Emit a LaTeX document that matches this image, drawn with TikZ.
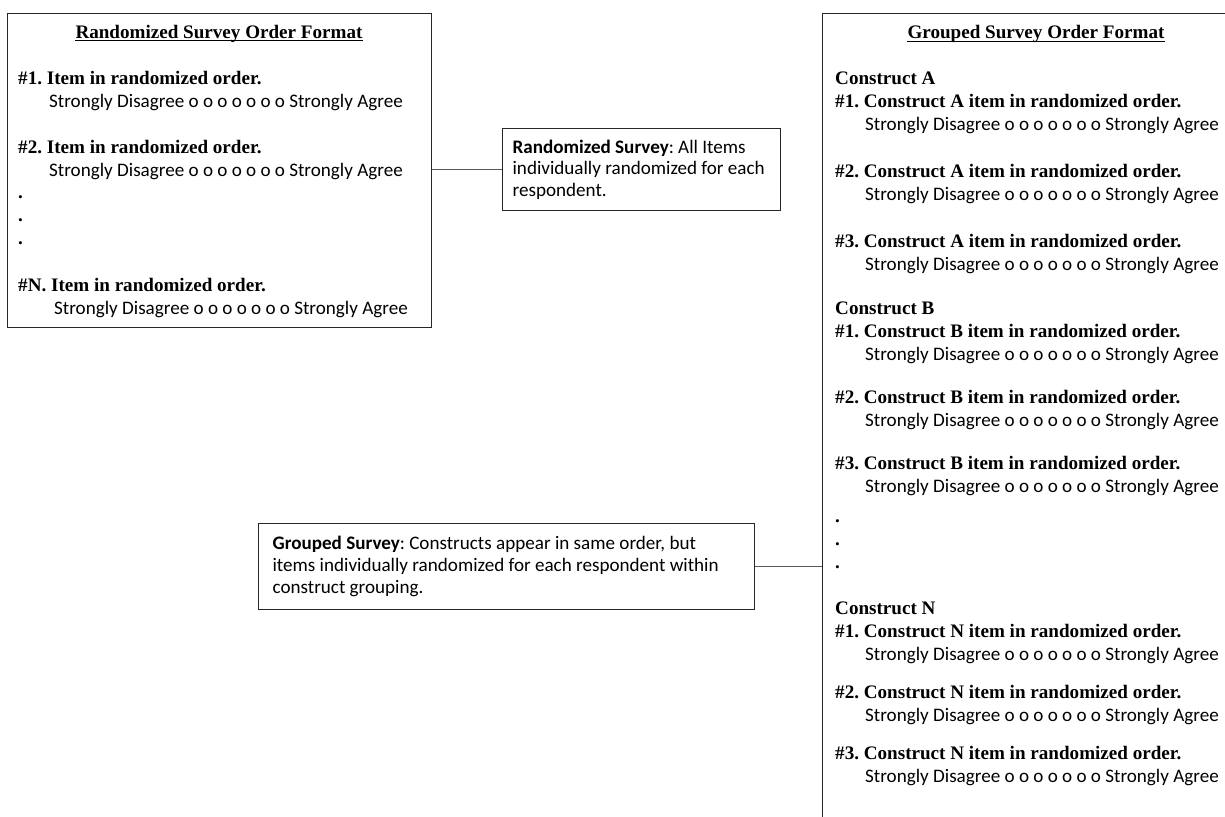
\documentclass[tikz,border=0pt]{standalone}
\usepackage{fontspec}
\setmainfont{Liberation Serif}
\newfontfamily\calibri{Carlito}
\usetikzlibrary{positioning,calc}
\frenchspacing

\newcommand{\likert}{Strongly Disagree o o o o o o o Strongly Agree}

\tikzset{
  framebox/.style={draw=black!85, line width=1.4pt},
  notebox/.style={draw=black!85, line width=1.2pt, align=flush left,
    font=\calibri\fontsize{19.1}{21.7}\selectfont},
  titletext/.style={anchor=base, inner sep=0pt, font=\bfseries\fontsize{19.1}{23}\selectfont},
  itemtext/.style={anchor=base west, inner sep=0pt, font=\bfseries\fontsize{19.1}{23}\selectfont},
  scaletext/.style={anchor=base west, inner sep=0pt, font=\calibri\fontsize{19.1}{23}\selectfont},
  underln/.style={line width=1.1pt},
  link/.style={draw=black!65, line width=1pt}
}

\begin{document}
\begin{tikzpicture}[x=1pt, y=-1pt]
    \useasboundingbox (0,0) rectangle (1225,816);

    % Randomized format
    \node[framebox, anchor=north west, minimum width=424pt, minimum height=314pt] (randbox) at (7,13) {};
    \node[titletext] (randtitle) at (219,38) {Randomized Survey Order Format};
    \draw[underln] ([yshift=-2.5pt]randtitle.base west) -- ([yshift=-2.5pt]randtitle.base east);

    \node[itemtext] (rand1) at (18,84) {\#1. Item in randomized order.};
    \node[scaletext] (rscale1) at (49,107) {\likert};
    \node[itemtext] (rand2) at (18,153) {\#2. Item in randomized order.};
    \node[scaletext] (rscale2) at (49,176) {\likert};
    \foreach \dy [count=\i] in {198,221,244}
        \node[itemtext] (rdot\i) at (18,\dy) {.};
    \node[itemtext] (randN) at (18,291) {\#N. Item in randomized order.};
    \node[scaletext] (rscaleN) at (54,314) {\likert};

    % Grouped format
    \node[framebox, anchor=north west, minimum width=430pt, minimum height=840pt] (groupbox) at (822,13) {};
    \node[titletext] (grouptitle) at (1036,39) {Grouped Survey Order Format};
    \draw[underln] ([yshift=-2.5pt]grouptitle.base west) -- ([yshift=-2.5pt]grouptitle.base east);

    \foreach \grp/\top/\gap in {A/78/70, B/308/66, N/608/61} {
        \node[itemtext] (head\grp) at (835,\top+6) {Construct \grp};
        \foreach \k in {1,2,3} {
            \node[itemtext] (item\grp\k) at (835,\top+29+\k*\gap-\gap) {\#\k. Construct \grp\ item in randomized order.};
            \node[scaletext] (scale\grp\k) at (865,\top+52+\k*\gap-\gap) {\likert};
        }
    }
    \foreach \dy [count=\i] in {522,545,568}
        \node[itemtext] (gdot\i) at (835,\dy) {.};

    % Notes
    \node[notebox, anchor=north west, text width=258pt, inner xsep=10pt, minimum height=82pt] (randnote) at (502,128)
        {\textbf{Randomized Survey}: All Items\\individually randomized for each\\respondent.};
    \node[notebox, anchor=north west, text width=468pt, inner xsep=14pt, minimum height=86pt] (groupnote) at (258,523)
        {\textbf{Grouped Survey}: Constructs appear in same order, but\\items individually randomized for each respondent within\\construct grouping.};

    \draw[link] (randnote.west) -- (randnote.west -| randbox.east);
    \draw[link] (groupnote.east) -- (groupnote.east -| groupbox.west);
\end{tikzpicture}
\end{document}
